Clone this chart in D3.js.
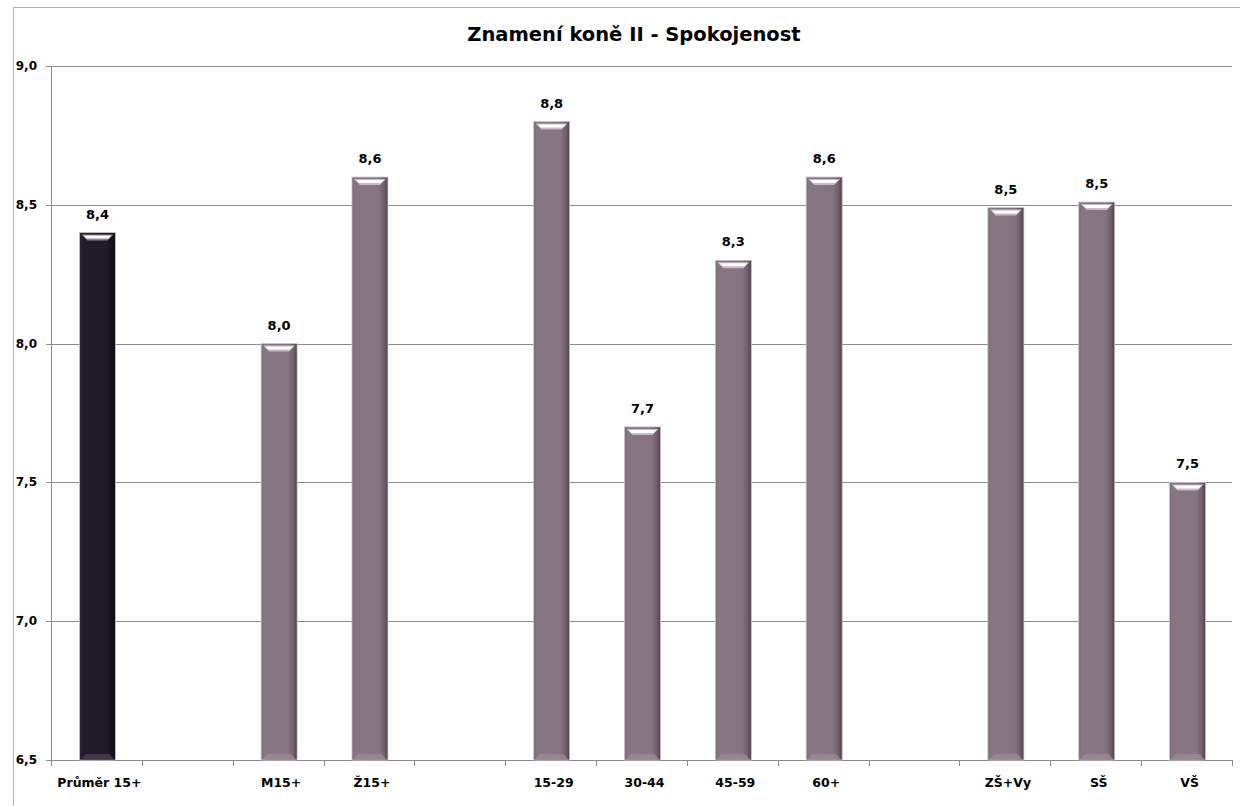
<!DOCTYPE html>
<html><head><meta charset="utf-8">
<script src="https://cdn.jsdelivr.net/npm/d3@7"></script>
<style>body{margin:0;background:#fff}svg{display:block}text{font-family:"DejaVu Sans",Verdana,sans-serif;font-weight:bold;fill:#000}</style>
</head><body><svg id="c" width="1240" height="806"></svg>
<script>
const title = "Znamení koně II - Spokojenost";
const categories = ["Průměr 15+", "", "M15+", "Ž15+", " ", "15-29", "30-44", "45-59", "60+", "  ", "ZŠ+Vy", "SŠ", "VŠ"];
const values = [8.4, null, 8.0, 8.6, null, 8.8, 7.7, 8.3, 8.6, null, 8.49, 8.51, 7.5];
const valueLabels = ["8,4", "", "8,0", "8,6", "", "8,8", "7,7", "8,3", "8,6", "", "8,5", "8,5", "7,5"];
const yTicks = [6.5, 7.0, 7.5, 8.0, 8.5, 9.0];
const highlightIndex = 0;

const svg = d3.select("#c");
const L = 51, R = 1232, T = 66, B = 760;

const defs = svg.append("defs");
function grad(id, stops){
  const g = defs.append("linearGradient").attr("id", id).attr("x1",0).attr("x2",1).attr("y1",0).attr("y2",0);
  stops.forEach(s => g.append("stop").attr("offset", s[0]).attr("stop-color", s[1]));
}
grad("gMain", [[0,"#7a6a77"],[0.08,"#87757f"],[0.2,"#877582"],[0.75,"#85737f"],[0.9,"#6e5d6a"],[1,"#4e404c"]]);
grad("gDark", [[0,"#2e2636"],[0.1,"#221b2a"],[0.75,"#211a29"],[0.9,"#18121e"],[1,"#0e0a12"]]);

// outer frame
svg.append("rect").attr("x",13.5).attr("y",7.5).attr("width",1260).attr("height",830)
  .attr("fill","none").attr("stroke","#b3b3b3").attr("stroke-width",1);

svg.append("text").attr("x",634).attr("y",41).attr("text-anchor","middle")
  .style("font-size","19.5px").text(title);

const x = d3.scaleBand().domain(categories).range([L, R]).paddingInner(0).paddingOuter(0);
const y = d3.scaleLinear().domain([6.5, 9.0]).range([B, T]);

// gridlines
svg.append("g").selectAll("line").data(yTicks).join("line")
  .attr("x1", L-5).attr("x2", R).attr("y1", d=>Math.round(y(d))+0.5).attr("y2", d=>Math.round(y(d))+0.5)
  .attr("stroke","#8c8c8c").attr("stroke-width",1);

// y axis line
svg.append("line").attr("x1",L+0.5).attr("x2",L+0.5).attr("y1",T).attr("y2",B+5).attr("stroke","#8c8c8c");

// y labels
svg.append("g").selectAll("text").data(yTicks).join("text")
  .attr("x", 37).attr("y", d=>y(d)+4).attr("text-anchor","end").style("font-size","12px")
  .text(d => d3.format(".1f")(d).replace(".", ","));

// x ticks
const tickXs = categories.map(c => x(c)).concat([x(categories[categories.length-1]) + x.bandwidth()]);
svg.append("g").selectAll("line").data(tickXs).join("line")
  .attr("x1", d=>Math.round(d)+0.5).attr("x2", d=>Math.round(d)+0.5).attr("y1", B).attr("y2", B+6)
  .attr("stroke","#8c8c8c");

// x labels
svg.append("g").selectAll("text").data(categories).join("text")
  .attr("x", d => x(d) + x.bandwidth()/2 + 3).attr("y", 787).attr("text-anchor","middle")
  .style("font-size","12.5px").text(d => d.trim());

// bars
const bw = 36;
const bars = svg.append("g").selectAll("g").data(values.map((v,i)=>({v,i,c:categories[i]})).filter(d=>d.v!==null)).join("g");
bars.each(function(d){
  const g = d3.select(this);
  const x0 = x(d.c) + x.bandwidth()/2 - bw/2 + 1;
  const y0 = y(d.v), h = B - y0;
  const dark = d.i === highlightIndex;
  g.append("rect").attr("x",x0).attr("y",y0).attr("width",bw).attr("height",h)
    .attr("fill", dark ? "url(#gDark)" : "url(#gMain)").attr("stroke", dark ? "#c9c6cc" : "#cbc4c9").attr("stroke-width",0.8);
  // top highlight bevel
  g.append("path").attr("d", `M${x0+2},${y0+2} L${x0+bw-2},${y0+2} L${x0+bw-8},${y0+8} L${x0+8},${y0+8} Z`)
    .attr("fill", dark ? "#8a8496" : "#c9bcc6");
  g.append("path").attr("d", `M${x0+4},${y0+3} L${x0+bw-4},${y0+3} L${x0+bw-7},${y0+6} L${x0+7},${y0+6} Z`)
    .attr("fill", "#ffffff");
  // bottom bevel
  g.append("path").attr("d", `M${x0+1},${B} L${x0+bw-1},${B} L${x0+bw-6},${B-6} L${x0+6},${B-6} Z`)
    .attr("fill", dark ? "#4a3f55" : "#9a8a96").attr("opacity",0.8);
  g.append("text").attr("x", x0 + bw/2).attr("y", y0 - 14).attr("text-anchor","middle")
    .style("font-size","13px").text(valueLabels[d.i]);
});
</script></body></html>
